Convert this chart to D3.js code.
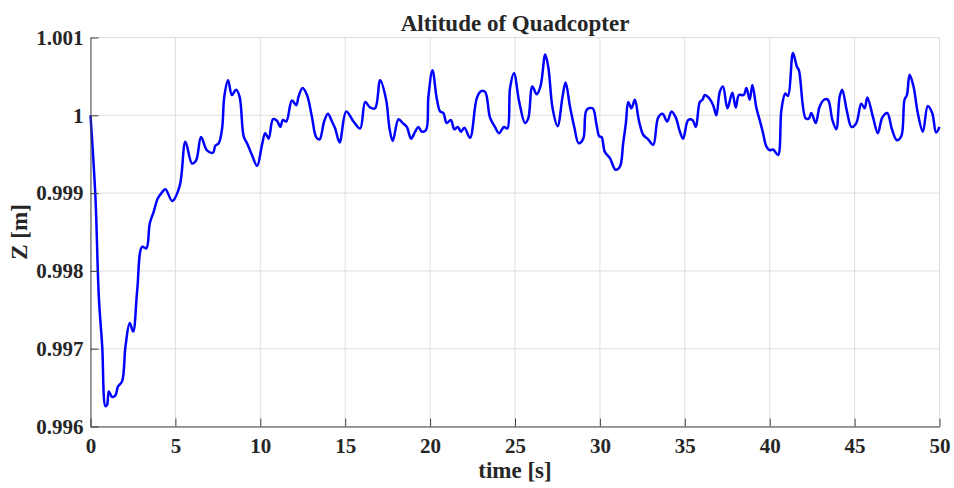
<!DOCTYPE html>
<html>
<head>
<meta charset="utf-8">
<script src="https://cdn.jsdelivr.net/npm/d3@7"></script>
<style>
  body { margin: 0; background: #fff; }
  svg { display: block; }
  text { font-family: "Liberation Serif", "Times New Roman", serif; font-weight: bold; fill: #262626; }
</style>
</head>
<body>
<div id="plot"></div>
<script>
// time samples [s]
const timeData = [
  0, 0.29, 0.49, 0.69, 0.88, 0.98, 1.08, 1.27, 1.47, 1.61, 1.86, 2.06, 2.31, 2.51, 2.75,
  3.04, 3.29, 3.49, 3.72, 3.96, 4.18, 4.41, 4.81, 5.25, 5.59, 5.98, 6.22, 6.51, 6.86, 7.22,
  7.35, 7.55, 7.75, 7.88, 8.10, 8.33, 8.57, 8.78, 9.02, 9.22, 9.51, 9.81, 10.10, 10.29, 10.49,
  10.75, 10.98, 11.18, 11.33, 11.53, 11.86, 12.12, 12.25, 12.49, 12.75, 13.04, 13.29, 13.49, 13.76, 13.98,
  14.22, 14.41, 14.67, 15.06, 15.49, 15.88, 16.18, 16.47, 16.76, 17.06, 17.41, 17.61, 17.80, 18.14, 18.39,
  18.63, 18.88, 19.12, 19.31, 19.51, 19.76, 19.90, 20.14, 20.39, 20.59, 20.78, 20.98, 21.22, 21.43, 21.63,
  21.82, 22.02, 22.35, 22.75, 23.00, 23.24, 23.53, 23.82, 24.06, 24.35, 24.55, 24.71, 24.94, 25.25, 25.59,
  25.78, 26.02, 26.28, 26.51, 26.78, 26.96, 27.22, 27.51, 27.80, 27.98, 28.24, 28.49, 28.75, 29.02, 29.22,
  29.57, 29.80, 29.96, 30.10, 30.29, 30.59, 30.92, 31.18, 31.37, 31.53, 31.67, 31.86, 32.06, 32.29, 32.55,
  32.84, 33.14, 33.43, 33.69, 33.96, 34.22, 34.47, 34.71, 34.90, 35.20, 35.45, 35.65, 35.88, 36.04, 36.18,
  36.43, 36.67, 36.86, 37.06, 37.25, 37.51, 37.80, 38.00, 38.19, 38.47, 38.63, 38.82, 38.98, 39.22, 39.41,
  39.61, 39.80, 40.00, 40.20, 40.49, 40.69, 40.92, 41.08, 41.37, 41.61, 41.72, 42.12, 42.31, 42.45, 42.71,
  42.94, 43.20, 43.43, 43.69, 43.92, 44.12, 44.27, 44.55, 44.82, 45.10, 45.39, 45.59, 45.75, 46.08, 46.37,
  46.63, 46.92, 47.20, 47.49, 47.75, 47.94, 48.08, 48.24, 48.47, 48.72, 49.02, 49.31, 49.57, 49.80, 50.00
];

// altitude Z [m]
const altData = [
  1.00000, 0.99895, 0.99767, 0.99703, 0.99626, 0.99628, 0.99645, 0.99638, 0.99640, 0.99651, 0.99658, 0.99703, 0.99733, 0.99722, 0.99775,
  0.99831, 0.99829, 0.99861, 0.99876, 0.99893, 0.99900, 0.99905, 0.99890, 0.99909, 0.99966, 0.99938, 0.99942, 0.99972, 0.99955, 0.99952,
  0.99961, 0.99964, 0.99983, 1.00024, 1.00045, 1.00026, 1.00033, 1.00024, 0.99973, 0.99964, 0.99949, 0.99935, 0.99962, 0.99977, 0.99970,
  0.99995, 0.99993, 0.99985, 0.99994, 0.99992, 1.00019, 1.00013, 1.00024, 1.00035, 1.00026, 0.99998, 0.99972, 0.99969, 0.99992, 1.00002,
  0.99992, 0.99983, 0.99965, 1.00005, 0.99992, 0.99983, 1.00017, 1.00010, 1.00009, 1.00045, 1.00020, 0.99983, 0.99967, 0.99995, 0.99990,
  0.99985, 0.99970, 0.99979, 0.99985, 0.99979, 0.99981, 1.00024, 1.00058, 1.00022, 1.00005, 1.00003, 0.99990, 0.99994, 0.99982, 0.99985,
  0.99979, 0.99984, 0.99971, 1.00022, 1.00031, 1.00030, 0.99997, 0.99985, 0.99977, 0.99985, 0.99983, 1.00035, 1.00054, 1.00017, 0.99990,
  0.99996, 1.00037, 1.00027, 1.00038, 1.00078, 1.00062, 1.00008, 0.99986, 1.00024, 1.00042, 1.00011, 0.99985, 0.99964, 0.99970, 1.00007,
  1.00009, 0.99988, 0.99973, 0.99972, 0.99953, 0.99945, 0.99930, 0.99934, 0.99964, 0.99990, 1.00017, 1.00009, 1.00020, 0.99994, 0.99975,
  0.99969, 0.99962, 0.99997, 1.00002, 0.99992, 1.00005, 0.99997, 0.99979, 0.99970, 0.99994, 0.99994, 0.99985, 1.00017, 1.00020, 1.00026,
  1.00022, 1.00013, 1.00000, 1.00030, 1.00037, 1.00009, 1.00029, 1.00010, 1.00026, 1.00026, 1.00035, 1.00020, 1.00039, 1.00009, 0.99994,
  0.99977, 0.99960, 0.99955, 0.99956, 0.99949, 1.00007, 1.00028, 1.00025, 1.00080, 1.00062, 1.00058, 0.99996, 0.99996, 1.00003, 0.99990,
  1.00011, 1.00020, 1.00020, 0.99994, 0.99982, 1.00024, 1.00033, 1.00005, 0.99985, 0.99990, 1.00015, 1.00009, 1.00023, 0.99998, 0.99977,
  0.99997, 1.00003, 0.99982, 0.99968, 0.99973, 1.00020, 1.00026, 1.00052, 1.00037, 1.00003, 0.99979, 1.00012, 1.00003, 0.99978, 0.99985
];

const xTicks = [0, 5, 10, 15, 20, 25, 30, 35, 40, 45, 50];
const yTicks = [0.996, 0.997, 0.998, 0.999, 1, 1.001];
const yTickLabels = ["0.996", "0.997", "0.998", "0.999", "1", "1.001"];

const W = 954, H = 488;
const margin = {top: 37.5, right: 14.5, bottom: 61.5, left: 90.5};
const width = W - margin.left - margin.right;
const height = H - margin.top - margin.bottom;

const svg = d3.select("#plot").append("svg")
  .attr("width", W)
  .attr("height", H);

const g = svg.append("g")
  .attr("transform", "translate(" + margin.left + "," + margin.top + ")");

const x = d3.scaleLinear().domain([0, 50]).range([0, width]);
const y = d3.scaleLinear().domain([0.996, 1.001]).range([height, 0]);

// grid
g.append("g")
  .selectAll("line")
  .data(xTicks)
  .join("line")
  .attr("x1", d => x(d)).attr("x2", d => x(d))
  .attr("y1", 0).attr("y2", height)
  .attr("stroke", "#dfdfdf").attr("stroke-width", 1);

g.append("g")
  .selectAll("line")
  .data(yTicks)
  .join("line")
  .attr("x1", 0).attr("x2", width)
  .attr("y1", d => y(d)).attr("y2", d => y(d))
  .attr("stroke", "#dfdfdf").attr("stroke-width", 1);

// data line
const pts = timeData.map((t, i) => [t, altData[i]]);
g.append("path")
  .datum(pts)
  .attr("fill", "none")
  .attr("stroke", "#0000ff")
  .attr("stroke-width", 2.5)
  .attr("stroke-linejoin", "round")
  .attr("d", d3.line()
    .x(d => x(d[0]))
    .y(d => y(d[1]))
    .curve(d3.curveCatmullRom.alpha(0.5)));

// axes
const xAxis = g.append("g")
  .attr("transform", "translate(0," + height + ")")
  .call(d3.axisBottom(x).tickValues(xTicks).tickFormat(d3.format("d"))
    .tickSizeInner(-8).tickSizeOuter(0).tickPadding(12));

const yAxis = g.append("g")
  .call(d3.axisLeft(y).tickValues(yTicks).tickFormat((d, i) => yTickLabels[i])
    .tickSizeInner(-8).tickSizeOuter(0).tickPadding(7));

[xAxis, yAxis].forEach(a => {
  a.select(".domain").attr("stroke", "#404040");
  a.selectAll(".tick line").attr("stroke", "#404040");
  a.selectAll("text")
    .attr("fill", "#262626")
    .style("font-family", "'Liberation Serif', 'Times New Roman', serif")
    .style("font-weight", "bold")
    .style("font-size", "21px");
});

// title and labels
svg.append("text")
  .attr("x", margin.left + width / 2)
  .attr("y", 30.5)
  .attr("text-anchor", "middle")
  .style("font-size", "23px")
  .text("Altitude of Quadcopter");

svg.append("text")
  .attr("x", margin.left + width / 2)
  .attr("y", 478)
  .attr("text-anchor", "middle")
  .style("font-size", "23px")
  .text("time [s]");

svg.append("text")
  .attr("transform", "translate(27," + (margin.top + height / 2) + ") rotate(-90)")
  .attr("text-anchor", "middle")
  .style("font-size", "23px")
  .text("Z [m]");
</script>
</body>
</html>
